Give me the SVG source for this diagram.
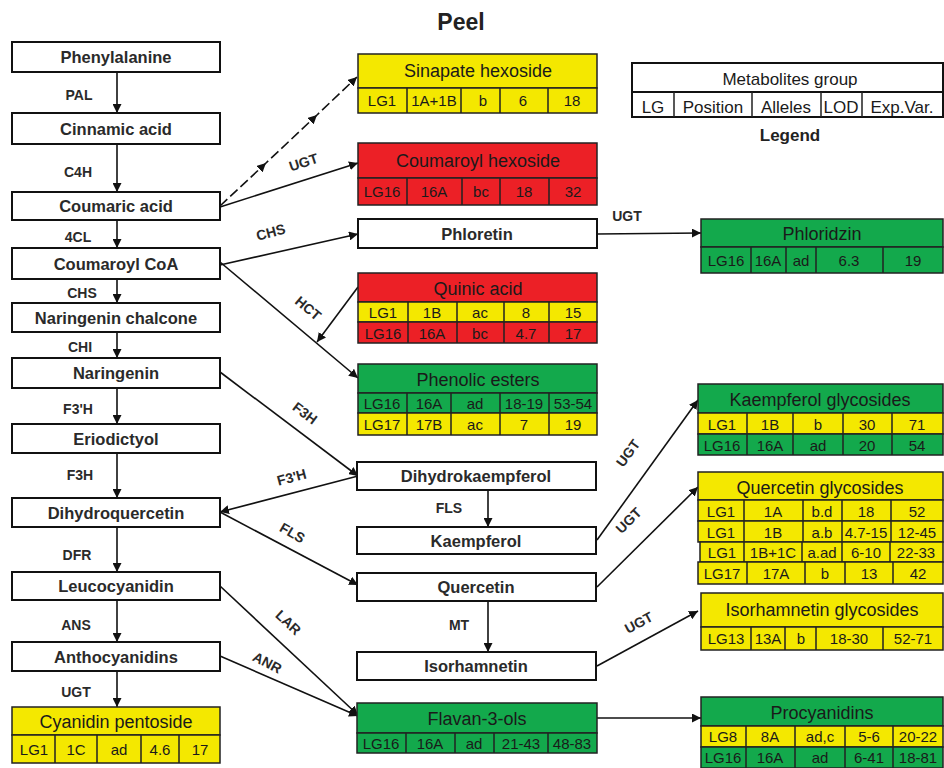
<svg xmlns="http://www.w3.org/2000/svg" width="944" height="768" viewBox="0 0 944 768">
<defs>
<marker id="ah" viewBox="0 0 10 10" refX="10" refY="5" markerWidth="9" markerHeight="9" markerUnits="userSpaceOnUse" orient="auto">
<path d="M0,0 L10,5 L0,10 z" fill="#111"/>
</marker>
</defs>
<style>
.w{fill:#fff;stroke:#111;stroke-width:2}
.y{fill:#f4e800;stroke:#222;stroke-width:1.5}
.r{fill:#ec2026;stroke:#222;stroke-width:1.5}
.g{fill:#13a94c;stroke:#222;stroke-width:1.5}
.cl{stroke:#222;stroke-width:1.5}
.nt{font-family:"Liberation Sans",Arial,sans-serif;font-size:16.5px;font-weight:bold;fill:#2a2a2a;text-anchor:middle}
.ht{font-family:"Liberation Sans",Arial,sans-serif;font-size:18px;fill:#1a1a1a;text-anchor:middle}
.ct{font-family:"Liberation Sans",Arial,sans-serif;font-size:15px;fill:#1a1a1a;text-anchor:middle}
.lt{font-family:"Liberation Sans",Arial,sans-serif;font-size:17px;fill:#1a1a1a;text-anchor:middle}
.el{font-family:"Liberation Sans",Arial,sans-serif;font-size:14px;font-weight:bold;fill:#2a2a2a;text-anchor:middle}
.ln{stroke:#111;stroke-width:1.6;fill:none;marker-end:url(#ah)}
</style>
<rect width="944" height="768" fill="#fff"/>
<text x="461" y="30" font-family="Liberation Sans,Arial,sans-serif" font-size="23" font-weight="bold" fill="#222" text-anchor="middle">Peel</text>

<g id="connectors">
<line class="ln" x1="117" y1="72" x2="117" y2="113"/>
<line class="ln" x1="117" y1="144" x2="117" y2="192"/>
<line class="ln" x1="117" y1="220" x2="117" y2="248"/>
<line class="ln" x1="117" y1="279" x2="117" y2="303"/>
<line class="ln" x1="117" y1="332" x2="117" y2="358"/>
<line class="ln" x1="117" y1="388" x2="117" y2="424"/>
<line class="ln" x1="117" y1="453" x2="117" y2="498"/>
<line class="ln" x1="117" y1="527" x2="117" y2="572"/>
<line class="ln" x1="117" y1="600" x2="117" y2="642"/>
<line class="ln" x1="117" y1="671" x2="117" y2="707"/>
<polyline class="ln" points="220,206 266,163 317,115 357,77" stroke-dasharray="10 4" marker-mid="url(#ah)"/>
<line class="ln" x1="220" y1="207" x2="358" y2="163"/>
<line class="ln" x1="220" y1="265" x2="358" y2="234"/>
<line class="ln" x1="220" y1="262" x2="358" y2="378"/>
<line class="ln" x1="358" y1="287" x2="317" y2="342"/>
<line class="ln" x1="597" y1="234" x2="701" y2="233"/>
<line class="ln" x1="220" y1="372" x2="358" y2="476"/>
<line class="ln" x1="358" y1="476" x2="220" y2="512"/>
<line class="ln" x1="220" y1="512" x2="358" y2="585"/>
<line class="ln" x1="488" y1="490" x2="488" y2="527"/>
<line class="ln" x1="488" y1="601" x2="488" y2="652"/>
<line class="ln" x1="220" y1="586" x2="358" y2="715"/>
<line class="ln" x1="220" y1="656" x2="358" y2="716"/>
<line class="ln" x1="597" y1="718" x2="701" y2="718"/>
<line class="ln" x1="597" y1="540" x2="698" y2="400"/>
<line class="ln" x1="597" y1="587" x2="698" y2="487"/>
<line class="ln" x1="597" y1="666" x2="698" y2="611"/>
<text class="el" x="79" y="100">PAL</text>
<text class="el" x="78" y="177">C4H</text>
<text class="el" x="78" y="242">4CL</text>
<text class="el" x="82" y="298">CHS</text>
<text class="el" x="80" y="352">CHI</text>
<text class="el" x="78" y="414">F3'H</text>
<text class="el" x="80" y="480">F3H</text>
<text class="el" x="77" y="560">DFR</text>
<text class="el" x="76" y="630">ANS</text>
<text class="el" x="76" y="697">UGT</text>
<text class="el" x="449" y="513">FLS</text>
<text class="el" x="459" y="630">MT</text>
<text class="el" x="627" y="221">UGT</text>
<text class="el" transform="translate(305,167) rotate(-18)">UGT</text>
<text class="el" transform="translate(272,237) rotate(-15)">CHS</text>
<text class="el" transform="translate(305,312) rotate(40)">HCT</text>
<text class="el" transform="translate(302,417) rotate(37)">F3H</text>
<text class="el" transform="translate(293,482) rotate(-15)">F3'H</text>
<text class="el" transform="translate(290,537) rotate(30)">FLS</text>
<text class="el" transform="translate(285,626) rotate(43)">LAR</text>
<text class="el" transform="translate(265,667) rotate(28)">ANR</text>
<text class="el" transform="translate(632,456) rotate(-54)">UGT</text>
<text class="el" transform="translate(632,524) rotate(-45)">UGT</text>
<text class="el" transform="translate(641,627) rotate(-28)">UGT</text>
</g>

<g id="phenylalanine"><rect class="w" x="12" y="42" width="208" height="30"/><text class="nt" x="116" y="63">Phenylalanine</text></g>
<g id="cinnamic-acid"><rect class="w" x="12" y="113" width="208" height="31"/><text class="nt" x="116" y="135">Cinnamic acid</text></g>
<g id="coumaric-acid"><rect class="w" x="12" y="192" width="208" height="28"/><text class="nt" x="116" y="212">Coumaric acid</text></g>
<g id="coumaroyl-coa"><rect class="w" x="12" y="248" width="208" height="31"/><text class="nt" x="116" y="270">Coumaroyl CoA</text></g>
<g id="naringenin-chalcone"><rect class="w" x="12" y="303" width="208" height="29"/><text class="nt" x="116" y="324">Naringenin chalcone</text></g>
<g id="naringenin"><rect class="w" x="12" y="358" width="208" height="30"/><text class="nt" x="116" y="379">Naringenin</text></g>
<g id="eriodictyol"><rect class="w" x="12" y="424" width="208" height="29"/><text class="nt" x="116" y="445">Eriodictyol</text></g>
<g id="dihydroquercetin"><rect class="w" x="12" y="498" width="208" height="29"/><text class="nt" x="116" y="519">Dihydroquercetin</text></g>
<g id="leucocyanidin"><rect class="w" x="12" y="572" width="208" height="28"/><text class="nt" x="116" y="592">Leucocyanidin</text></g>
<g id="anthocyanidins"><rect class="w" x="12" y="642" width="208" height="29"/><text class="nt" x="116" y="663">Anthocyanidins</text></g>

<g id="cyanidin-pentoside">
<rect class="y" x="12" y="707" width="208" height="28"/><text class="ht" x="116" y="728">Cyanidin pentoside</text>
<rect class="y" x="12" y="735" width="208" height="28"/>
<path class="cl" d="M55,735V763M97,735V763M141,735V763M179,735V763"/>
<text class="ct" x="34" y="755">LG1</text><text class="ct" x="76" y="755">1C</text><text class="ct" x="119" y="755">ad</text><text class="ct" x="160" y="755">4.6</text><text class="ct" x="200" y="755">17</text>
</g>

<g id="sinapate-hexoside">
<rect class="y" x="358" y="54" width="239" height="34"/><text class="ht" x="478" y="77">Sinapate hexoside</text>
<rect class="y" x="358" y="88" width="239" height="25"/>
<path class="cl" d="M407,88V113M461,88V113M500,88V113M548,88V113"/>
<text class="ct" x="382" y="106">LG1</text><text class="ct" x="434" y="106">1A+1B</text><text class="ct" x="483" y="106">b</text><text class="ct" x="523" y="106">6</text><text class="ct" x="572" y="106">18</text>
</g>

<g id="coumaroyl-hexoside">
<rect class="r" x="358" y="143" width="239" height="35"/><text class="ht" x="478" y="167">Coumaroyl hexoside</text>
<rect class="r" x="358" y="178" width="239" height="27"/>
<path class="cl" d="M407,178V205M462,178V205M500,178V205M549,178V205"/>
<text class="ct" x="382" y="197">LG16</text><text class="ct" x="434" y="197">16A</text><text class="ct" x="481" y="197">bc</text><text class="ct" x="524" y="197">18</text><text class="ct" x="573" y="197">32</text>
</g>

<g id="phloretin"><rect class="w" x="358" y="219" width="239" height="29"/><text class="nt" x="477" y="240">Phloretin</text></g>

<g id="quinic-acid">
<rect class="r" x="358" y="273" width="239" height="29"/><text class="ht" x="478" y="295">Quinic acid</text>
<rect class="y" x="358" y="302" width="239" height="20"/>
<rect class="r" x="358" y="322" width="239" height="21"/>
<path class="cl" d="M408,302V343M457,302V343M504,302V343M549,302V343"/>
<text class="ct" x="383" y="318">LG1</text><text class="ct" x="432" y="318">1B</text><text class="ct" x="480" y="318">ac</text><text class="ct" x="526" y="318">8</text><text class="ct" x="573" y="318">15</text>
<text class="ct" x="383" y="339">LG16</text><text class="ct" x="432" y="339">16A</text><text class="ct" x="480" y="339">bc</text><text class="ct" x="526" y="339">4.7</text><text class="ct" x="573" y="339">17</text>
</g>

<g id="phenolic-esters">
<rect class="g" x="358" y="364" width="239" height="29"/><text class="ht" x="478" y="386">Phenolic esters</text>
<rect class="g" x="358" y="393" width="239" height="20"/>
<rect class="y" x="358" y="413" width="239" height="22"/>
<path class="cl" d="M407,393V435M451,393V435M500,393V435M549,393V435"/>
<text class="ct" x="382" y="409">LG16</text><text class="ct" x="429" y="409">16A</text><text class="ct" x="475" y="409">ad</text><text class="ct" x="524" y="409">18-19</text><text class="ct" x="573" y="409">53-54</text>
<text class="ct" x="382" y="430">LG17</text><text class="ct" x="429" y="430">17B</text><text class="ct" x="475" y="430">ac</text><text class="ct" x="524" y="430">7</text><text class="ct" x="573" y="430">19</text>
</g>

<g id="dihydrokaempferol"><rect class="w" x="357" y="462" width="239" height="28"/><text class="nt" x="476" y="482">Dihydrokaempferol</text></g>
<g id="kaempferol"><rect class="w" x="357" y="527" width="239" height="27"/><text class="nt" x="476" y="547">Kaempferol</text></g>
<g id="quercetin"><rect class="w" x="357" y="573" width="239" height="28"/><text class="nt" x="476" y="593">Quercetin</text></g>
<g id="isorhamnetin"><rect class="w" x="357" y="652" width="239" height="28"/><text class="nt" x="476" y="672">Isorhamnetin</text></g>

<g id="flavan-3-ols">
<rect class="g" x="357" y="703" width="240" height="30"/><text class="ht" x="477" y="725">Flavan-3-ols</text>
<rect class="g" x="357" y="733" width="240" height="20"/>
<path class="cl" d="M406,733V753M455,733V753M494,733V753M548,733V753"/>
<text class="ct" x="381" y="749">LG16</text><text class="ct" x="430" y="749">16A</text><text class="ct" x="474" y="749">ad</text><text class="ct" x="521" y="749">21-43</text><text class="ct" x="572" y="749">48-83</text>
</g>

<g id="legend">
<rect class="w" x="632" y="63" width="311" height="29"/><text class="lt" x="790" y="85">Metabolites group</text>
<rect class="w" x="632" y="92" width="311" height="25"/>
<path class="cl" d="M674,92V117M752,92V117M821,92V117M862,92V117"/>
<text class="lt" x="653" y="113">LG</text><text class="lt" x="713" y="113">Position</text><text class="lt" x="786" y="113">Alleles</text><text class="lt" x="841" y="113">LOD</text><text class="lt" x="902" y="113">Exp.Var.</text>
<text x="790" y="141" font-family="Liberation Sans,Arial,sans-serif" font-size="17" font-weight="bold" fill="#222" text-anchor="middle">Legend</text>
</g>

<g id="phloridzin">
<rect class="g" x="701" y="219" width="242" height="28"/><text class="ht" x="822" y="240">Phloridzin</text>
<rect class="g" x="701" y="247" width="242" height="26"/>
<path class="cl" d="M751,247V273M786,247V273M816,247V273M883,247V273"/>
<text class="ct" x="726" y="266">LG16</text><text class="ct" x="768" y="266">16A</text><text class="ct" x="801" y="266">ad</text><text class="ct" x="849" y="266">6.3</text><text class="ct" x="913" y="266">19</text>
</g>

<g id="kaempferol-glycosides">
<rect class="g" x="698" y="384" width="245" height="29"/><text class="ht" x="820" y="406">Kaempferol glycosides</text>
<rect class="y" x="698" y="413" width="245" height="21"/>
<rect class="g" x="698" y="434" width="245" height="21"/>
<path class="cl" d="M747,413V455M793,413V455M843,413V455M892,413V455"/>
<text class="ct" x="722" y="430">LG1</text><text class="ct" x="770" y="430">1B</text><text class="ct" x="818" y="430">b</text><text class="ct" x="867" y="430">30</text><text class="ct" x="917" y="430">71</text>
<text class="ct" x="722" y="451">LG16</text><text class="ct" x="770" y="451">16A</text><text class="ct" x="818" y="451">ad</text><text class="ct" x="867" y="451">20</text><text class="ct" x="917" y="451">54</text>
</g>

<g id="quercetin-glycosides">
<rect class="y" x="698" y="472" width="245" height="28"/><text class="ht" x="820" y="494">Quercetin glycosides</text>
<rect class="y" x="698" y="500" width="245" height="21"/>
<rect class="y" x="698" y="521" width="245" height="21"/>
<rect class="y" x="700" y="542" width="243" height="20"/>
<rect class="y" x="698" y="562" width="245" height="22"/>
<path class="cl" d="M744,500V542M803,500V542M842,500V542M891,500V542M744,542V562M802,542V562M842,542V562M890,542V562M747,562V584M805,562V584M845,562V584M893,562V584"/>
<text class="ct" x="721" y="517">LG1</text><text class="ct" x="773" y="517">1A</text><text class="ct" x="822" y="517">b.d</text><text class="ct" x="866" y="517">18</text><text class="ct" x="917" y="517">52</text>
<text class="ct" x="721" y="538">LG1</text><text class="ct" x="773" y="538">1B</text><text class="ct" x="822" y="538">a.b</text><text class="ct" x="866" y="538">4.7-15</text><text class="ct" x="917" y="538">12-45</text>
<text class="ct" x="722" y="558">LG1</text><text class="ct" x="773" y="558">1B+1C</text><text class="ct" x="822" y="558">a.ad</text><text class="ct" x="866" y="558">6-10</text><text class="ct" x="916" y="558">22-33</text>
<text class="ct" x="722" y="579">LG17</text><text class="ct" x="776" y="579">17A</text><text class="ct" x="825" y="579">b</text><text class="ct" x="869" y="579">13</text><text class="ct" x="918" y="579">42</text>
</g>

<g id="isorhamnetin-glycosides">
<rect class="y" x="701" y="593" width="242" height="34"/><text class="ht" x="822" y="616">Isorhamnetin glycosides</text>
<rect class="y" x="701" y="627" width="242" height="23"/>
<path class="cl" d="M751,627V650M785,627V650M816,627V650M883,627V650"/>
<text class="ct" x="726" y="644">LG13</text><text class="ct" x="768" y="644">13A</text><text class="ct" x="801" y="644">b</text><text class="ct" x="849" y="644">18-30</text><text class="ct" x="913" y="644">52-71</text>
</g>

<g id="procyanidins">
<rect class="g" x="701" y="697" width="242" height="29"/><text class="ht" x="822" y="719">Procyanidins</text>
<rect class="y" x="701" y="726" width="242" height="21"/>
<rect class="g" x="701" y="747" width="242" height="21"/>
<path class="cl" d="M746,726V768M795,726V768M845,726V768M893,726V768"/>
<text class="ct" x="723" y="742">LG8</text><text class="ct" x="770" y="742">8A</text><text class="ct" x="820" y="742">ad,c</text><text class="ct" x="869" y="742">5-6</text><text class="ct" x="918" y="742">20-22</text>
<text class="ct" x="723" y="763">LG16</text><text class="ct" x="770" y="763">16A</text><text class="ct" x="820" y="763">ad</text><text class="ct" x="869" y="763">6-41</text><text class="ct" x="918" y="763">18-81</text>
</g>
</svg>
